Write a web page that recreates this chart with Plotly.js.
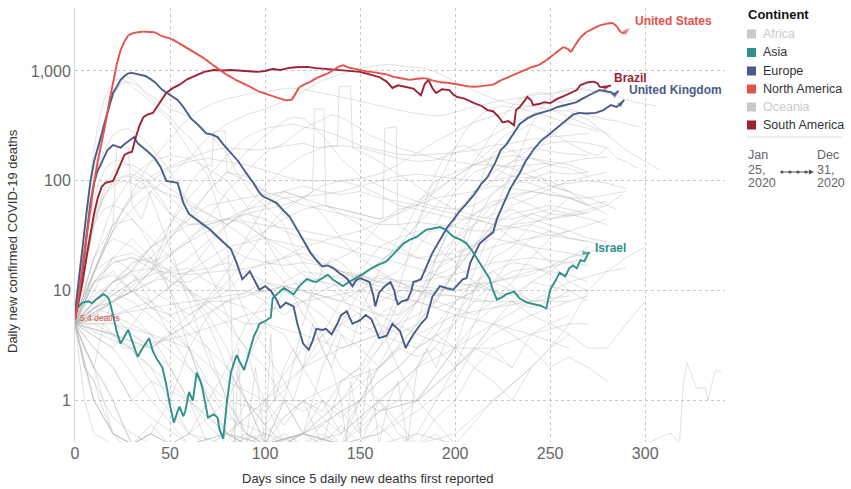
<!DOCTYPE html>
<html>
<head>
<meta charset="utf-8">
<script src="https://cdn.plot.ly/plotly-3.0.1.min.js"></script>
<style>
  html, body { margin: 0; padding: 0; background: #fff; }
  #chart { width: 851px; height: 489px; }
</style>
</head>
<body>
<div id="chart"></div>
<script>
// ---------------- Highlighted countries ----------------
const usDays = [0,2,4,6,8,10,12,14,16,18,20,22,24,26,28,30,33,36,39,42,45,48,51,54,57,60,64,68,72,76,80,84,88,92,96,100,104,108,111,114,116,118,121,124,127,130,133,136,139,141,144,147,150,153,156,160,164,168,172,176,180,184,188,192,196,200,204,208,212,216,220,224,228,232,236,240,244,248,252,255,257,259,261,263,266,269,272,276,280,283,285,287,289,291,292];
const usDeaths = [5.4,9,17,30,55,95,150,215,330,520,800,1150,1550,1850,2100,2200,2250,2280,2260,2250,2100,2020,1950,1820,1700,1580,1450,1300,1150,1020,920,840,780,720,660,620,590,560,540,545,620,710,760,800,860,900,950,1020,1100,1130,1070,1050,1020,990,980,960,930,880,850,830,850,860,820,790,780,760,730,720,720,740,750,820,880,940,1000,1080,1130,1250,1420,1560,1650,1600,1490,1700,2030,2250,2400,2600,2700,2730,2550,2260,2200,2380,2460];

const brazilDays = [0,2,4,6,8,10,12,14,16,18,20,22,24,26,28,30,32,34,36,38,41,44,48,51,55,59,64,68,73,78,82,87,92,96,100,104,108,112,116,122,127,132,136,141,146,150,155,160,164,167,170,174,178,182,184,186,188,190,193,197,199,201,205,210,214,217,220,223,225,228,231,232,234,236,238,240,241,244,247,250,254,258,262,264,266,270,273,275,276,278,280,282];
const brazilDeaths = [5.5,8,12,20,33,50,70,88,96,98,100,118,145,172,180,184,250,320,380,400,415,500,630,690,750,840,920,980,1020,1010,1020,1000,990,980,1000,1040,1020,1060,1080,1090,1060,1040,1020,1000,990,980,930,880,800,700,740,720,690,600,760,830,700,630,680,670,610,580,560,510,480,440,430,380,340,350,320,440,470,520,580,540,490,500,520,510,560,600,640,670,745,790,800,770,720,710,720,740];

const ukDays = [0,2,4,6,8,10,12,14,16,18,20,22,24,26,28,30,32,35,37,39,42,46,50,54,57,61,65,69,72,75,78,82,86,90,94,97,99,102,106,110,113,115,118,121,124,127,130,133,136,139,143,146,148,150,153,155,157,158,160,163,166,168,169,170,172,175,177,178,182,185,188,192,196,199,202,206,210,214,217,221,224,227,230,234,238,242,246,250,254,258,262,264,267,269,272,276,279,282,284,286];
const ukDeaths = [6.3,12,25,50,95,150,200,260,360,480,630,720,830,900,950,960,940,920,900,860,790,670,600,545,470,370,320,270,265,250,215,180,150,118,95,78,72,68,63,53,47,41,33,27,22,19,16.6,17,16,14.5,13,11,12.5,13,12.5,12,9,7.2,9.6,11,12,10,8.3,7.5,8,8.3,10,12,12.7,16.6,22,29,38,44,52,62,75,95,108,145,190,215,260,330,370,400,420,440,470,490,505,520,560,580,620,670,650,640,610,660];

const germanyDays = [0,2,4,6,8,10,12,13,15,17,20,22,24,26,29,31,33,36,39,42,45,48,51,54,57,60,62,65,67,71,75,78,82,85,88,92,95,97,100,103,106,108,111,115,117,120,123,125,127,130,132,135,138,140,143,146,150,153,156,158,160,164,167,171,174,176,178,182,185,188,192,196,199,204,206,208,211,213,217,220,222,225,229,234,237,241,245,250,254,258,262,265,269,274,278,282,285,287,289];
const germanyDeaths = [6,9,15,30,60,95,125,134,160,190,212,205,200,215,236,250,220,200,180,160,134,100,98,96,63,50,47,43,41,36,31,28,24,18,12.7,15,12,10.2,11,10,8.3,7,7.8,7.2,5,3.3,2.9,3.5,4.5,4.4,4.5,4,5,6,6.5,5,5.4,6,5.5,4.5,3.7,3.9,5,4.3,3,3.5,4,5,5.7,8.8,11,10.5,10.2,12.7,13,18,23,27,31,34,45,60,85,118,150,190,230,270,310,350,400,415,410,415,440,490,470,500,545];

const israelDays = [0,2,4,7,9,11,13,15,17,18,20,22,24,26,28,30,33,35,37,39,41,43,46,48,50,52,54,55,57,58,60,62,64,66,67,69,70,73,75,76,78,80,82,84,85,87,89,91,94,96,97,100,103,104,107,110,113,115,118,122,125,127,130,133,136,139,141,144,148,151,155,159,164,168,173,176,180,183,185,189,192,195,199,203,206,209,213,216,218,220,222,225,227,231,234,238,242,245,248,250,253,255,258,260,262,264,266,268,270,271];
const israelDeaths = [6.7,7.2,7.8,8,7.7,8.3,8.8,9.3,8.8,8.3,6,4.2,3.3,3.8,4.4,3.5,2.5,2.9,3.3,3.7,2.8,2.4,2.0,1.4,0.9,0.63,0.8,0.88,0.72,0.8,1.2,1.0,1.8,1.5,1.3,0.85,0.7,0.75,0.7,0.55,0.45,1.0,1.8,2.3,2.6,2.2,1.9,2.5,3.8,4.5,5,5.3,5.7,8.6,9.5,10.6,9.8,9.3,11,12.8,12.2,12,13,14,12.5,11.5,11,12,13,14,15.6,17,18.6,22,27,29,31,34,36,37,38,36,31,29,27,23,18,15,13,10,8.3,8.8,9.3,9.8,8.5,7.8,7.5,7.3,6.9,10.2,12.5,14.6,13.5,16,17,16,19,18.5,22,22];

// ---------------- Other countries (grey) ----------------
const italyDays = [0,3,6,9,12,15,18,21,24,27,30,34,38,42,46,50,55,60,65,70,75,80,85,90,95,100,105,110,115,120,125,130,135,140,145,150,155,160,165,170,175,180,185,190,195,200,205,210,215,220,225,230,235,240,245,250,255,260,265,270,275,280,285,290,295,300,306];
const italyDeaths = [6,15,35,80,170,330,520,650,760,800,780,720,630,560,500,450,420,380,330,280,220,180,120,90,70,60,50,40,25,18,14,12,10,9,7,6,5,6,7,6,8,10,12,14,15,17,20,25,35,50,80,120,200,320,450,580,650,690,700,680,650,620,600,550,520,500,480];
const spainDays = [0,3,6,9,12,15,18,21,24,27,30,35,40,45,50,55,60,65,70,75,80,82,84,86,88,90,95,100,103,105,110,115,120,125,130,135,140,145,150,155,160,165,170,175,180,185,190,195,200,205,210,215,220,225,230,235,240,245,250,255,260,265,270,275,280,285,290,296];
const spainDeaths = [7,20,60,150,320,520,700,820,860,800,720,620,520,430,350,260,190,150,110,60,30,8,0,3,0,0,2,0,4,1,2,3,2,5,3,2,4,3,6,10,15,20,30,40,60,80,100,110,120,130,140,170,200,250,280,300,330,300,270,250,220,200,180,170,200,160,150,130];
const franceDays = [0,3,6,9,12,15,18,21,24,27,30,33,36,40,45,50,55,60,65,70,75,80,85,90,95,100,110,120,130,140,150,160,170,180,190,200,205,210,215,220,225,230,235,240,245,250,255,260,265,270,275,280,285,290,297];
const franceDeaths = [6,15,40,90,180,330,480,620,780,900,850,760,650,560,450,380,300,250,200,130,80,70,50,40,35,30,20,14,12,11,13,18,25,40,60,90,110,150,200,280,380,480,560,620,640,600,520,450,420,400,380,360,350,330,310];
const indiaDays = [0,10,20,30,40,50,60,70,80,90,100,110,120,130,140,150,160,165,170,175,180,185,190,200,210,220,230,240,250,260,270,282];
const indiaDeaths = [6,15,35,55,80,110,160,250,330,400,450,530,650,820,930,1050,1130,1150,1120,1100,1080,1050,970,800,660,560,500,480,450,380,320,260];
const mexicoDays = [0,8,16,24,32,40,48,56,64,72,80,88,96,104,112,120,128,136,144,152,160,168,176,184,192,200,208,216,224,232,240,248,256,264,273];
const mexicoDeaths = [5,12,25,50,90,150,220,320,420,500,560,600,640,660,700,680,640,600,560,520,480,450,420,400,390,420,460,500,540,560,600,620,650,680,650];
const peruDays = [0,8,16,24,32,40,48,56,64,72,80,88,96,104,112,120,128,136,138,139,145,146,152,160,168,176,184,192,200,210,220,230,240,250,260,270,277];
const peruDeaths = [5,12,25,50,80,110,130,150,170,190,200,195,190,200,210,220,200,210,205,720,730,200,180,150,120,100,80,65,55,48,45,45,50,45,50,55,60];
const colombiaDays = [0,10,20,30,40,50,60,70,80,90,100,110,115,120,125,130,140,150,160,170,180,190,200,210,220,230,240,250,260,270];
const colombiaDeaths = [5,8,12,15,25,40,70,110,170,250,300,320,330,310,300,290,250,210,190,175,170,175,180,190,210,220,240,250,260,270];
const argentinaDays = [0,15,30,45,60,70,80,90,100,110,120,130,135,140,145,150,155,160,170,180,190,200,210,220,230,240,250];
const argentinaDeaths = [5,8,12,18,28,45,80,120,180,220,300,360,400,380,340,300,260,240,200,180,160,150,140,140,135,140,145];
const iranDays = [0,5,10,15,20,25,30,35,40,50,60,70,80,90,100,110,120,130,140,150,160,170,180,190,200,210,220,230,240,250,260,270,280,290,300,308];
const iranDeaths = [5,15,40,80,120,140,140,125,110,85,65,50,40,55,90,130,170,200,210,200,180,160,150,155,180,210,260,330,400,440,430,360,260,190,150,125];
const chinaDays = [0,4,8,12,16,20,24,28,32,36,40,44,48,52,56,60,64,68,72,76,80,84,90,100,120,140,160,180,190,195,200,240,280,300,312,314,318,320,322,327,332,333,335,337,340];
const chinaDeaths = [5,15,35,60,80,95,105,110,105,95,70,45,30,20,12,8,5,3,2,1.5,1,0.8,0.5,0,0,0,0,0,0.5,0,0,0,0,0,0.5,0.5,0,1.4,2.2,1.3,1.3,1,1.4,1.9,1.8];
const belgiumDays = [0,4,8,12,16,20,24,28,32,36,40,45,50,55,60,65,70,75,80,85,90,95,100,105,110,115,120,130,140,150,160,170,180,190,200,205,210,215,220,225,230,235,240,245,250,260,270,280,285];
const belgiumDeaths = [5,20,60,130,200,260,290,300,270,240,200,160,120,90,60,45,30,22,15,10,6,4,3,2,1.5,1,2,3,5,4,5,4,5,8,15,30,60,120,180,200,190,160,130,110,90,80,70,60,55];
const netherlandsDays = [0,4,8,12,16,20,24,28,32,36,40,45,50,55,60,65,70,75,80,85,90,95,100,110,120,130,140,150,160,170,180,190,200,210,220,230,240,250,260,270,280,288];
const netherlandsDeaths = [6,20,50,90,130,150,155,140,120,110,90,70,50,40,30,20,15,10,6,4,3,1.5,1,0.6,1,0.8,1.5,2,3,5,8,15,30,50,65,70,60,50,48,52,60,75];
const swedenDays = [0,5,10,15,20,25,30,35,40,45,50,55,60,65,70,75,80,85,90,95,100,105,110,115,120,125,130,135,140,143,145,150,155,160,165,170,175,180,185,190,200,210,220,230,240,250,260,270,280];
const swedenDeaths = [6,20,45,70,90,100,95,85,90,80,75,70,60,55,50,45,40,35,30,25,20,15,12,9,6,5,3,2,1,0,1.5,0.5,2,0,1,1.5,0,2,3,2,6,10,20,25,40,50,70,60,65];
const russiaDays = [0,10,20,30,40,50,60,70,80,90,100,110,120,130,140,150,160,170,180,190,200,210,220,230,240,250,260,271];
const russiaDeaths = [6,15,40,70,100,130,150,160,150,140,125,110,100,100,100,105,115,140,180,230,280,340,390,440,480,510,540,560];
const polandDays = [0,10,20,30,40,50,60,70,80,90,100,110,120,130,140,150,160,170,180,185,190,195,200,205,210,215,220,225,230,240,250,260,270,275];
const polandDeaths = [5,12,20,22,18,15,16,12,10,10,8,6,8,10,12,14,18,25,40,60,90,130,200,280,350,420,460,480,470,430,380,330,300,280];
const romaniaDays = [0,10,20,30,40,50,60,70,80,90,100,110,120,130,140,150,160,170,180,190,200,210,220,230,240,250,260,270];
const romaniaDeaths = [5,12,18,20,16,12,12,15,20,28,35,45,55,60,55,50,45,50,60,80,110,140,160,170,160,140,130,110];
const czechiaDays = [0,10,20,30,40,50,60,70,80,90,100,110,120,130,140,150,160,165,170,175,180,185,190,195,200,205,210,215,220,230,240,250,260,270];
const czechiaDeaths = [5,7,6,4,3,2,1,0.6,0,1,0,0.7,1,0,1.5,2,4,6,10,20,40,70,120,170,200,210,190,160,130,110,105,120,115,120];
const ukraineDays = [0,15,30,45,60,75,90,105,120,135,150,165,180,195,210,225,240,255,270];
const ukraineDeaths = [5,8,12,15,14,15,16,18,25,30,35,45,65,95,140,180,200,180,170];
const indonesiaDays = [0,10,20,30,40,50,60,70,80,90,100,110,120,130,140,150,160,170,180,190,200,210,220,230,240,250,260,270,280];
const indonesiaDeaths = [6,12,18,20,18,22,28,35,45,55,60,70,72,75,80,90,100,110,115,110,105,100,100,110,120,140,150,160,165];
const philippinesDays = [0,10,20,30,40,50,60,70,80,90,100,110,120,130,140,150,160,170,180,190,200,210,220,230,240,250,260,270];
const philippinesDeaths = [6,9,12,14,10,8,6,8,12,20,35,55,70,90,100,90,75,60,55,50,45,45,40,38,35,32,30,28];
const southAfricaDays = [0,10,20,30,40,50,60,70,80,90,100,105,110,115,120,125,130,140,150,160,170,180,190,200,210,220,230,240,250,260,265];
const southAfricaDeaths = [5,6,8,10,15,30,50,80,120,180,260,300,350,380,370,320,260,160,110,90,75,65,58,55,60,75,110,170,250,350,400];
const chileDays = [0,10,20,30,40,50,55,60,65,70,72,73,79,80,85,90,100,110,120,130,140,150,160,170,180,190,200,210,220,230,240,250,260,268];
const chileDeaths = [5,7,8,10,15,40,60,90,120,140,135,280,285,120,110,100,80,70,60,55,50,45,40,40,42,40,38,35,35,40,42,45,48,50];
const boliviaDays = [0,10,20,30,40,50,60,70,80,90,100,110,120,130,140,150,160,162,163,169,170,180,190,200,210,220,230,240,250,260];
const boliviaDeaths = [5,6,8,12,20,30,45,60,65,70,75,80,70,60,55,50,45,45,300,310,40,30,25,18,12,10,8,7,8,10];
const turkeyDays = [0,5,10,15,20,25,30,40,50,60,70,80,90,100,110,120,130,140,150,160,170,180,190,200,210,220,230,240,250,260,270,280];
const turkeyDeaths = [5,15,40,70,100,110,115,95,70,50,35,25,20,18,17,18,17,20,25,40,55,60,70,75,80,100,150,200,220,230,220,200];
const canadaDays = [0,10,20,30,40,50,60,70,80,90,100,110,120,130,140,150,160,170,180,190,200,210,220,230,240,250,260,270,280];
const canadaDeaths = [5,20,60,110,150,170,160,130,100,60,30,15,10,8,6,5,4,5,6,8,15,25,40,60,70,85,100,110,120];
const ecuadorDays = [0,5,10,15,20,22,28,30,35,40,50,60,70,80,90,100,110,120,125,126,131,132,140,150,160,170,180,190,200,210,220,230,240,250,260,270,280];
const ecuadorDeaths = [5,8,15,25,40,200,200,60,45,80,50,40,40,45,50,55,60,70,80,450,450,60,50,40,30,25,20,18,20,22,25,28,30,32,35,30,28];
const egyptDays = [0,20,40,60,80,100,110,120,130,140,150,160,170,180,190,200,220,240,260,280];
const egyptDeaths = [5,8,12,20,40,70,80,70,50,30,20,15,12,10,10,11,12,14,20,25];
const iraqDays = [0,20,40,60,80,90,100,110,120,130,140,150,160,170,180,190,200,210,220,230,240,250,260,270];
const iraqDeaths = [5,4,3,5,15,30,60,80,90,80,75,80,70,65,60,55,50,45,40,30,25,18,12,10];
const pakistanDays = [0,20,40,60,70,80,90,100,110,120,130,140,150,160,170,180,190,200,210,220,230,240,250,260,270];
const pakistanDeaths = [5,12,25,45,80,120,110,80,50,30,15,10,8,6,6,8,10,15,25,40,50,55,60,55,50];
const bangladeshDays = [0,20,40,60,80,100,120,140,160,180,200,220,240,260,270];
const bangladeshDeaths = [5,10,25,40,45,40,35,30,25,20,22,30,25,22,20];
const switzerlandDays = [0,5,10,15,20,25,30,35,40,50,60,70,80,90,100,110,120,130,140,150,160,170,180,190,200,210,220,230,240,250,260,270,280,290];
const switzerlandDeaths = [5,20,40,55,60,55,45,35,25,10,3,1,0.5,0,1,0,0.5,1,0.7,1,2,3,5,20,50,80,90,85,80,90,95,100,95,85];
const portugalDays = [0,10,20,30,40,50,60,70,80,90,100,120,140,160,180,190,200,210,220,230,240,250,260,270,280,290];
const portugalDeaths = [6,20,30,25,18,12,10,8,6,5,5,4,3,4,8,15,25,40,60,75,80,75,70,70,75,80];
const irelandDays = [0,10,20,30,40,50,60,70,80,90,100,110,120,140,160,180,200,210,220,230,240,250,260,270,280,290,300];
const irelandDeaths = [5,20,40,45,30,20,10,6,3,1,0.6,0,0.5,0,0.8,1,3,5,7,8,6,5,4,3,3,5,8];
const japanDays = [0,10,20,30,40,50,60,70,80,90,100,110,120,130,140,150,160,170,180,190,200,210,220,230,240,250,260,270,280];
const japanDeaths = [5,8,12,18,20,15,10,5,2,1,0.6,1,0.5,2,5,10,14,12,10,8,7,6,8,12,20,30,35,40,45];
const moroccoDays = [0,20,40,60,80,100,120,140,150,160,170,180,190,200,210,220,230,240,250,260,270];
const moroccoDeaths = [5,6,4,2,1,0.8,2,8,15,25,30,35,35,40,50,60,70,80,75,70,60];
const hungaryDays = [0,15,30,45,60,75,90,105,120,135,150,165,180,190,200,210,220,230,240,250,260,270];
const hungaryDeaths = [5,10,8,5,3,1,0.5,0,0.5,0.7,1,3,8,20,45,80,120,150,160,150,140,120];
const austriaDays = [0,10,20,30,40,50,60,80,100,120,140,160,180,200,210,220,230,240,250,260,270,280];
const austriaDeaths = [5,15,20,15,8,4,2,0.7,0.5,1,0.5,1,2,5,15,40,90,110,100,80,60,50];
const greeceDays = [0,20,40,60,80,100,120,140,160,180,200,210,220,230,240,250,260,270];
const greeceDeaths = [5,4,2,1,0.5,0,0.5,1,2,5,15,40,80,100,95,80,70,60];
const bulgariaDays = [0,30,60,90,120,150,170,190,200,210,220,230,240,250,260];
const bulgariaDeaths = [5,3,4,6,8,10,15,40,80,120,140,130,110,90,80];
const denmarkDays = [0,10,20,30,40,50,60,70,80,90,100,120,140,160,180,200,220,240,260,280,290];
const denmarkDeaths = [5,12,14,10,7,5,3,1,0.5,0,0.5,0,0.5,1,2,3,5,8,12,15,16];
const australiaDays = [0,10,20,30,40,60,80,100,110,120,125,130,135,140,145,150,160,170,180,200,220,240,260];
const australiaDeaths = [5,3,2,1,0.7,0,0,0,1,5,10,15,20,18,15,10,5,2,1,0,0,0,0];
const algeriaDays = [0,10,20,30,40,50,60,70,80,90,100,110,120,130,140,150,160,170,180,190,200,210,220,230,240,250,260,270];
const algeriaDeaths = [5,12,15,10,7,6,7,8,8,9,10,11,10,9,8,10,9,8,8,7,8,10,15,18,17,14,10,8];
const saudiDays = [0,20,40,60,70,80,90,100,110,120,130,140,150,160,170,180,190,200,210,220,230,240,250,260,270];
const saudiDeaths = [5,6,8,15,25,40,50,45,35,30,28,25,22,20,18,16,14,12,11,10,9,12,11,10,10];
const guatemalaDays = [0,20,40,60,70,80,90,100,110,120,140,160,180,200,220,240,260];
const guatemalaDeaths = [5,8,15,30,40,45,40,30,25,20,15,12,10,9,8,8,9];
const hondurasDays = [0,20,40,60,80,100,120,140,160,180,200,220,240,260];
const hondurasDeaths = [5,3,8,15,25,30,25,15,10,8,6,5,4,3];
const nigeriaDays = [0,5,10,15,20,30,40,50,60,70,80,90,100,110,120,130,140,150,160,170,180,190,200,210,220,230,240,250,260];
const nigeriaDeaths = [5,3,2,5,8,10,8,6,4,3,2,1,0,1,0.5,0,0.6,0,1,0.5,0,0.7,1,2,3,2,4,5,6];
const kenyaDays = [0,10,20,30,40,50,60,70,80,90,100,110,120,130,140,150,160,170,180,190,200,210,220,230,240];
const kenyaDeaths = [5,2,1,0,0.5,1,3,6,8,7,5,4,2,1,0.8,0.5,0.8,1,2,4,8,12,15,11,8];
const belarusDays = [0,20,40,60,80,100,120,140,160,180,200,220,240,260,270];
const belarusDeaths = [5,5,4,3,1.5,1,1,1.5,2,4,6,7,8,8,9];
const serbiaDays = [0,10,20,30,40,50,60,80,100,110,120,130,140,150,160,180,200,210,220,230,240,250,260,270,280];
const serbiaDeaths = [5,5,4,3,2,1,0.5,1,5,10,8,4,2,1.5,1,1,3,10,25,40,50,55,50,45,40];
const panamaDays = [0,20,40,60,80,90,100,110,120,130,140,150,160,170,180,200,220,240,260,270];
const panamaDeaths = [5,4,3,6,10,15,18,20,22,18,15,14,12,12,11,10,12,15,18,20];
const afghanistanDays = [0,10,20,30,40,50,60,70,80,90,100,110,120,130,140,150,160,170,180,190,200,210,220,230,240];
const afghanistanDeaths = [5,8,12,15,16,14,10,7,5,3,2,1,0.8,1,0.5,1,1.5,2,3,5,8,10,12,10,8];
const sudanDays = [0,10,20,30,40,50,60,70,80,90,100,120,140,160,180,200,220,240];
const sudanDeaths = [5,7,8,6,4,2,1,0,0.5,0,0,0.5,0,1,0,0,1,2];
const dominicanDays = [0,10,20,30,40,50,60,80,100,120,140,160,180,200,220,240,260,270];
const dominicanDeaths = [5,6,5,4,3,4,5,8,12,10,8,6,4,3,3,4,5,5];
const ethiopiaDays = [0,20,40,60,70,80,90,100,110,120,130,140,150,160,170,180,190,200,210,220,230];
const ethiopiaDeaths = [5,8,12,15,16,18,15,12,10,8,6,4,3,2,3,2.5,3,2,3,2.5,2];
const kazakhstanDays = [0,10,20,30,40,50,60,70,80,90,100,110,120,130,140,150,160,180,200,220,240,260];
const kazakhstanDeaths = [5,10,20,30,20,10,5,3,1,0.5,0,0.5,0,0.6,0,1,0.8,1,2,4,6,8];
const moldovaDays = [0,20,40,60,80,100,120,140,160,180,200,220,240,260,270];
const moldovaDeaths = [5,6,7,8,9,10,12,14,13,12,14,18,20,18,17];
const bosniaDays = [0,20,40,60,80,100,120,140,160,180,200,220,240,250];
const bosniaDeaths = [5,3,1,0,0.5,1,3,5,8,12,20,35,40,35];
const southKoreaDays = [0,3,6,9,12,15,20,25,30,35,40,45,50,60,70,80,90,100,110,120,130,140,150,160,170,180,190,200,210,220,230,240,250,260,270,280,290,300];
const southKoreaDeaths = [5,6,7,6,5,5,4,3,3,2,1.5,1,0.8,0.5,0,0,0.45,0.5,0,0.5,0.6,0.8,1,1.5,2,3,4,3,2,1.5,1,2,3,5,10,15,20,25];
const sloveniaDays = [0,5,10,15,20,30,40,50,60,70,80,90,100,110,120,130,140,150,160,170,180,190,200,210,220,230,240,250,260,270,280];
const sloveniaDeaths = [5,3,2,1,0.5,0,0.6,0,0,0,0,0,0,0,0,0.5,0,0,0.6,0,0.5,1,2,5,12,20,30,35,30,28,25];
const lithuaniaDays = [0,5,10,15,20,25,30,40,50,60,70,80,90,100,120,140,160,180,200,210,220,230,240,250,260,270];
const lithuaniaDeaths = [5,2,1.5,0.8,0.5,0,0,0.5,0,0,0,0,0.5,0,0,0,0.5,0.8,1.5,3,5,8,12,15,20,25];
const tunisiaDays = [0,5,10,15,20,30,40,50,60,80,100,120,140,160,170,180,190,200,210,220,230,240,250,260];
const tunisiaDeaths = [5,2,1,0.7,0.5,0,0,0,0,0,0,0.5,1,3,8,12,20,30,40,50,55,45,40,35];
const costaRicaDays = [0,10,20,30,40,50,60,70,80,90,100,110,120,130,140,150,160,170,180,190,200,210,220];
const costaRicaDeaths = [5,1,0.5,0,0.5,0,0.5,1,2,5,8,12,15,14,13,12,11,10,10,9,9,8,8];
const uruguayDays = [0,5,10,20,30,40,50,60,80,100,120,140,160,180,200,220,240,250,260];
const uruguayDeaths = [5,1,0.5,0,0,0,0,0,0,0,0,0,0,0,0.5,1,2,3,4];
const cubaDays = [0,5,10,15,20,30,40,50,60,80,100,120,140,160,180,200];
const cubaDeaths = [5,2,1.5,1,0.7,0.5,0,0,0.5,0,0,0.5,0,0,0.5,0];
const malaysiaDays = [0,5,10,15,20,25,30,40,50,60,80,100,120,140,160,180,200,210,220,230,240,250,260,270,280];
const malaysiaDeaths = [5,3,2,1.5,1,0.6,0,0.5,0,0,0,0,0,0,0.5,1,2,3,5,4,3,2,2.5,2,1.5];
const albaniaDays = [0,10,20,30,40,60,80,100,120,140,160,180,200,210,220,230,240,250,260,270];
const albaniaDeaths = [5,1,0.5,0,0,0,0.5,1,2,3,4,3,5,8,12,15,16,15,14,12];
const qatarDays = [0,10,20,30,40,60,80,100,120,140,160,180,200,220,240];
const qatarDeaths = [5,3,2,1,1.5,1,0.5,0,0.5,0,0,0,0,0,0];

const greySeries = [
  [italyDays, italyDeaths], [spainDays, spainDeaths], [franceDays, franceDeaths],
  [indiaDays, indiaDeaths], [mexicoDays, mexicoDeaths], [peruDays, peruDeaths],
  [colombiaDays, colombiaDeaths], [argentinaDays, argentinaDeaths], [iranDays, iranDeaths],
  [chinaDays, chinaDeaths], [belgiumDays, belgiumDeaths], [netherlandsDays, netherlandsDeaths],
  [swedenDays, swedenDeaths], [russiaDays, russiaDeaths], [polandDays, polandDeaths],
  [romaniaDays, romaniaDeaths], [czechiaDays, czechiaDeaths], [ukraineDays, ukraineDeaths],
  [indonesiaDays, indonesiaDeaths], [philippinesDays, philippinesDeaths], [southAfricaDays, southAfricaDeaths],
  [chileDays, chileDeaths], [boliviaDays, boliviaDeaths], [turkeyDays, turkeyDeaths],
  [canadaDays, canadaDeaths], [ecuadorDays, ecuadorDeaths], [egyptDays, egyptDeaths],
  [iraqDays, iraqDeaths], [pakistanDays, pakistanDeaths], [bangladeshDays, bangladeshDeaths],
  [switzerlandDays, switzerlandDeaths], [portugalDays, portugalDeaths], [irelandDays, irelandDeaths],
  [japanDays, japanDeaths], [moroccoDays, moroccoDeaths], [hungaryDays, hungaryDeaths],
  [austriaDays, austriaDeaths], [greeceDays, greeceDeaths], [bulgariaDays, bulgariaDeaths],
  [denmarkDays, denmarkDeaths], [australiaDays, australiaDeaths], [algeriaDays, algeriaDeaths],
  [saudiDays, saudiDeaths], [guatemalaDays, guatemalaDeaths], [hondurasDays, hondurasDeaths],
  [nigeriaDays, nigeriaDeaths], [kenyaDays, kenyaDeaths], [belarusDays, belarusDeaths],
  [serbiaDays, serbiaDeaths], [panamaDays, panamaDeaths], [afghanistanDays, afghanistanDeaths],
  [sudanDays, sudanDeaths], [dominicanDays, dominicanDeaths], [ethiopiaDays, ethiopiaDeaths],
  [kazakhstanDays, kazakhstanDeaths], [moldovaDays, moldovaDeaths], [bosniaDays, bosniaDeaths],
  [southKoreaDays, southKoreaDeaths], [sloveniaDays, sloveniaDeaths], [lithuaniaDays, lithuaniaDeaths],
  [tunisiaDays, tunisiaDeaths], [costaRicaDays, costaRicaDeaths], [uruguayDays, uruguayDeaths],
  [cubaDays, cubaDeaths], [malaysiaDays, malaysiaDeaths], [albaniaDays, albaniaDeaths],
  [qatarDays, qatarDeaths]
];

const xTicks = [0, 50, 100, 150, 200, 250, 300];
const yTicks = [1, 10, 100, 1000];
const yTickText = ['1', '10', '100', '1,000'];
const legendNames = ['Africa', 'Asia', 'Europe', 'North America', 'Oceania', 'South America'];

// ---------------- Styling ----------------
const FONT = 'Arial, "Liberation Sans", Helvetica, sans-serif';
const ZERO_FLOOR = 0.4; // zero values are drawn on the bottom edge, as in the original
const C_US = '#e6504a', C_BR = '#9c2233', C_EU = '#4a5b88', C_AS = '#2d938a', C_GREY = '#c9c9c9';
const legendColors = [C_GREY, C_AS, C_EU, C_US, C_GREY, C_BR];
const legendTextColors = ['#cacaca', '#333', '#333', '#333', '#cacaca', '#333'];

const traces = [];
greySeries.forEach(([d, v]) => {
  traces.push({
    x: d, y: v.map(a => a <= 0 ? ZERO_FLOOR : a),
    type: 'scatter', mode: 'lines',
    line: { color: 'rgba(180,180,180,0.42)', width: 1 },
    hoverinfo: 'skip', showlegend: false
  });
});

function highlighted(days, deaths, color) {
  const n = days.length;
  const sizes = days.map((_, i) => i === 0 ? 5 : (i === n - 1 ? 8 : 0));
  const symbols = days.map((_, i) => i === n - 1 ? 'arrow' : 'circle');
  return {
    x: days, y: deaths, type: 'scatter', mode: 'lines+markers',
    line: { color: color, width: 1.9 },
    marker: { color: color, size: sizes, symbol: symbols, angleref: 'previous', line: { width: 0 } },
    cliponaxis: false, hoverinfo: 'skip', showlegend: false
  };
}
traces.push(highlighted(germanyDays, germanyDeaths, C_EU));
traces.push(highlighted(israelDays, israelDeaths, C_AS));
traces.push(highlighted(brazilDays, brazilDeaths, C_BR));
traces.push(highlighted(ukDays, ukDeaths, C_EU));
traces.push(highlighted(usDays, usDeaths, C_US));

// plot-area pixel geometry
const L = 75, T = 8, W = 650, H = 434;
const px = p => (p - L) / W;
const py = p => (T + H - p) / H;

const annotations = [
  { text: 'Daily new confirmed COVID-19 deaths', xref: 'paper', yref: 'paper', x: px(12), y: py(241),
    xanchor: 'center', yanchor: 'middle',
    textangle: -90, showarrow: false, font: { family: FONT, size: 13, color: '#333' } },
  { text: 'Days since 5 daily new deaths first reported', xref: 'paper', yref: 'paper', x: px(367), y: py(478),
    xanchor: 'center', yanchor: 'middle',
    showarrow: false, font: { family: FONT, size: 13, color: '#333' } },
  { text: '<b>United States</b>', x: 293.5, y: Math.log10(2850), xanchor: 'left', yanchor: 'middle', showarrow: false,
    font: { family: FONT, size: 12, color: C_US } },
  { text: '<b>Brazil</b>', x: 282.5, y: Math.log10(870), xanchor: 'left', yanchor: 'middle', showarrow: false,
    font: { family: FONT, size: 12, color: C_BR } },
  { text: '<b>United Kingdom</b>', x: 290.5, y: Math.log10(670), xanchor: 'left', yanchor: 'middle', showarrow: false,
    font: { family: FONT, size: 12, color: C_EU } },
  { text: '<b>Israel</b>', x: 272.5, y: Math.log10(24.5), xanchor: 'left', yanchor: 'middle', showarrow: false,
    font: { family: FONT, size: 12, color: C_AS } },
  { text: '5.4 deaths', x: 1.8, y: Math.log10(5.6), xanchor: 'left', yanchor: 'middle', showarrow: false,
    font: { family: FONT, size: 8.5, color: '#d9534f' } },
  { text: '<b>Continent</b>', xref: 'paper', yref: 'paper', x: px(746), y: py(15), xanchor: 'left', yanchor: 'middle',
    showarrow: false, font: { family: FONT, size: 13, color: '#111' } }
];
const legendY = [34, 52.5, 71, 89, 107, 125];
const shapes = [];
legendNames.forEach((name, i) => {
  annotations.push({ text: name, xref: 'paper', yref: 'paper', x: px(761), y: py(legendY[i]), xanchor: 'left', yanchor: 'middle',
    showarrow: false, font: { family: FONT, size: 12.5, color: legendTextColors[i] } });
  shapes.push({ type: 'rect', xref: 'paper', yref: 'paper', x0: px(747), x1: px(756), y0: py(legendY[i] + 4.5), y1: py(legendY[i] - 4.5),
    fillcolor: legendColors[i], line: { width: 0 } });
});
shapes.push({ type: 'line', xref: 'paper', yref: 'paper', x0: px(747), x1: px(842), y0: py(137), y1: py(137), line: { color: '#dcdcdc', width: 1 } });
['Jan', '25,', '2020'].forEach((t, i) => annotations.push({ text: t, xref: 'paper', yref: 'paper', x: px(746), y: py([155, 169.5, 183][i]),
  xanchor: 'left', yanchor: 'middle', showarrow: false, font: { family: FONT, size: 12.5, color: '#666' } }));
['Dec', '31,', '2020'].forEach((t, i) => annotations.push({ text: t, xref: 'paper', yref: 'paper', x: px(815), y: py([155, 169.5, 183][i]),
  xanchor: 'left', yanchor: 'middle', showarrow: false, font: { family: FONT, size: 12.5, color: '#666' } }));
shapes.push({ type: 'line', xref: 'paper', yref: 'paper', x0: px(781), x1: px(810), y0: py(172), y1: py(172), line: { color: '#555', width: 1 } });
[782, 790, 798, 806].forEach(cx => shapes.push({ type: 'circle', xref: 'paper', yref: 'paper', x0: px(cx - 1.6), x1: px(cx + 1.6),
  y0: py(172 + 1.6), y1: py(172 - 1.6), fillcolor: '#555', line: { width: 0 } }));
shapes.push({ type: 'path', xref: 'paper', yref: 'paper',
  path: `M ${px(809)} ${py(169.5)} L ${px(814)} ${py(172)} L ${px(809)} ${py(174.5)} Z`, fillcolor: '#555', line: { width: 0 } });

const layout = {
  width: 851, height: 489,
  margin: { l: L, r: 851 - L - W, t: T, b: 489 - T - H },
  paper_bgcolor: '#fff', plot_bgcolor: '#fff',
  font: { family: FONT, color: '#666' },
  showlegend: false,
  xaxis: {
    range: [0, 342], tickvals: xTicks, ticks: '', showgrid: true,
    gridcolor: '#c9c9c9', griddash: '3px,3px', gridwidth: 1, zeroline: false, showline: false,
    tickfont: { family: FONT, size: 16, color: '#666' }, fixedrange: true
  },
  yaxis: {
    type: 'log', range: [Math.log10(0.42), Math.log10(3740)], tickvals: yTicks, ticktext: yTickText, ticks: '',
    showgrid: true, gridcolor: '#c9c9c9', griddash: '3px,3px', gridwidth: 1, zeroline: false,
    showline: true, linecolor: '#dadada', linewidth: 1,
    tickfont: { family: FONT, size: 16, color: '#666' }, fixedrange: true
  },
  annotations: annotations,
  shapes: shapes
};

Plotly.newPlot('chart', traces, layout, { displayModeBar: false, staticPlot: true });
</script>
</body>
</html>
